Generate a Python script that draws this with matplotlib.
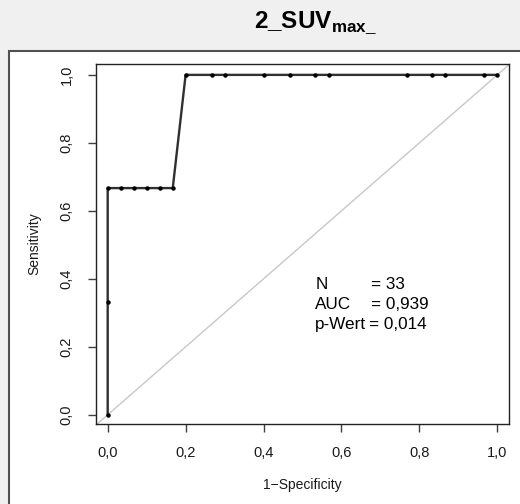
import matplotlib
matplotlib.use("Agg")
import matplotlib.pyplot as plt
from matplotlib.patches import Rectangle

plt.rcParams['font.family'] = ['Liberation Sans', 'DejaVu Sans']
plt.rcParams['mathtext.fontset'] = 'custom'
plt.rcParams['mathtext.bf'] = 'Liberation Sans:bold'
plt.rcParams['mathtext.rm'] = 'Liberation Sans'

# ROC curve points
fpr = [0.0, 0.0, 0.0, 0.033, 0.067, 0.100, 0.133, 0.167, 0.200, 0.267,
       0.300, 0.400, 0.467, 0.533, 0.567, 0.767, 0.833, 0.867, 0.967, 1.0]
tpr = [0.0, 0.333, 0.667, 0.667, 0.667, 0.667, 0.667, 0.667, 1.0, 1.0,
       1.0, 1.0, 1.0, 1.0, 1.0, 1.0, 1.0, 1.0, 1.0, 1.0]

ticks = [0.0, 0.2, 0.4, 0.6, 0.8, 1.0]
tick_labels = ["0,0", "0,2", "0,4", "0,6", "0,8", "1,0"]

stat_names = ["N", "AUC", "p-Wert"]
stat_values = ["= 33", "= 0,939", "= 0,014"]

W, H = 520, 504
fig = plt.figure(figsize=(W / 100, H / 100), dpi=100)
fig.patch.set_facecolor('#f0f0f0')

# white panel with dark frame, behind the axes
panel = Rectangle((9 / W, -0.1), 1.0, 1 - 51 / H + 0.1,
                  transform=fig.transFigure, facecolor='white',
                  edgecolor='#505050', lw=1.5, zorder=-10)
fig.patches.append(panel)

fig.text(315 / W, 1 - 28 / H, r"$\mathbf{2\_SUV}_{\mathbf{max\_}}$",
         ha='center', va='baseline', fontsize=17.5)

ax = fig.add_axes([96 / W, 1 - 424 / H, (509 - 96) / W, (424 - 64) / H])
ax.set_xlim(-0.03, 1.03)
ax.set_ylim(-0.027, 1.032)

ax.axline((0, 0), slope=1, color='#c8c8c8', lw=1.0, zorder=1)
ax.plot(fpr, tpr, color='#303030', lw=1.7, zorder=2)
ax.plot(fpr, tpr, 'o', color='black', ms=2.2, zorder=3)

ax.set_xticks(ticks)
ax.set_xticklabels(tick_labels)
ax.set_yticks(ticks)
ax.set_yticklabels(tick_labels, rotation=90, va='center')
ax.tick_params(axis='both', length=6, width=1, color='#404040',
               labelsize=10.5, labelcolor='#1a1a1a')
ax.tick_params(axis='x', pad=10)
ax.tick_params(axis='y', pad=10)
for s in ax.spines.values():
    s.set_color('#222222')
    s.set_linewidth(1.0)

ax.set_xlabel("1\u2212Specificity", fontsize=10, labelpad=13, color='#1a1a1a')
ax.set_ylabel("Sensitivity", fontsize=10, labelpad=13, color='#1a1a1a')

row_y = [0.37, 0.311, 0.252]
val_x = [0.677, 0.677, 0.670]
for name, val, y, vx in zip(stat_names, stat_values, row_y, val_x):
    ax.text(0.533, y, name, fontsize=12.3, va='baseline', ha='left')
    ax.text(vx, y, val, fontsize=12.3, va='baseline', ha='left')

fig.savefig("out.png", dpi=100, facecolor=fig.get_facecolor())
